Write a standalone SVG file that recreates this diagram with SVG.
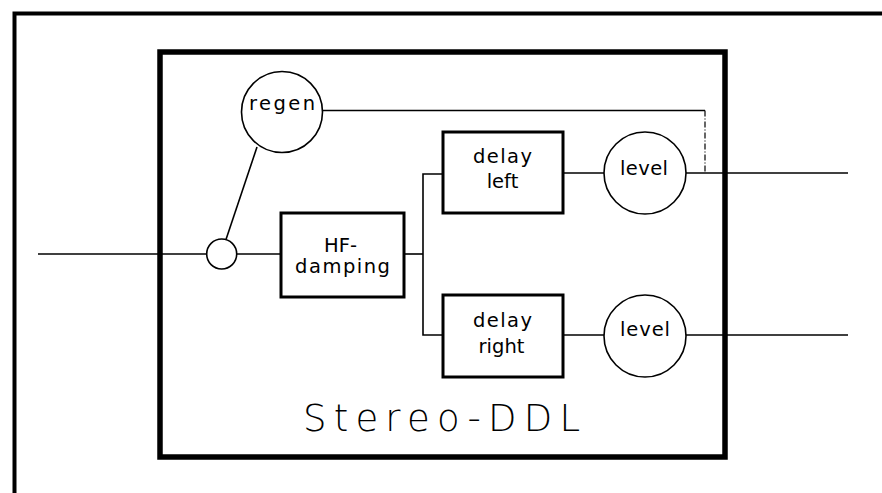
<svg xmlns="http://www.w3.org/2000/svg" width="882" height="493" viewBox="0 0 882 493">
<style>
.frame{fill:none;stroke:#000;stroke-width:4}
.box{fill:#fff;stroke:#000;stroke-width:3}
.circ{fill:#fff;stroke:#000;stroke-width:1.6}
.wire{fill:none;stroke:#000;stroke-width:1.6}
.dash{fill:none;stroke:#000;stroke-width:1.2;stroke-dasharray:6 2 1 2}
.t{font-family:"DejaVu Sans","Liberation Sans",sans-serif;font-size:19.5px;fill:#000;text-anchor:middle}
.big{font-family:"DejaVu Sans","Liberation Sans",sans-serif;font-size:37px;font-weight:200;fill:#000}
</style>
<rect width="882" height="493" fill="#fff"/>
<g id="outer-frame">
<path class="frame" d="M14.5,493 V13.5 H882"/>
</g>
<g id="stereo-ddl">
<rect x="160" y="52" width="565" height="405" fill="none" stroke="#000" stroke-width="5.5"/>
<text class="big" x="303" y="431" textLength="277" lengthAdjust="spacing">Stereo-DDL</text>
</g>
<g id="connectors">
<path class="wire" d="M38,254 H206.7"/>
<path class="wire" d="M236.7,254 H281"/>
<path class="wire" d="M404,254 H423"/>
<path class="wire" d="M443,174 H423 V335 H443"/>
<path class="wire" d="M563,173 H604"/>
<path class="wire" d="M563,335 H604"/>
<path class="wire" d="M686,173 H848"/>
<path class="wire" d="M686,335 H848"/>
<path class="wire" d="M257,147 L226,239.5"/>
<path class="wire" d="M323,110.5 H705"/>
<path class="dash" d="M705,110.5 V173"/>
</g>
<g id="summing-junction">
<circle class="circ" cx="221.7" cy="254" r="15"/>
</g>
<g id="regen">
<circle class="circ" cx="282" cy="112" r="40.5"/>
<text class="t" x="282" y="110" textLength="66" lengthAdjust="spacing">regen</text>
</g>
<g id="hf-damping">
<rect class="box" x="281" y="213" width="123" height="84"/>
<text class="t" x="340.5" y="252">HF-</text>
<text class="t" x="342.5" y="273" textLength="95" lengthAdjust="spacing">damping</text>
</g>
<g id="delay-left">
<rect class="box" x="443" y="132" width="120" height="81"/>
<text class="t" x="502.5" y="163" textLength="59" lengthAdjust="spacing">delay</text>
<text class="t" x="502.5" y="188">left</text>
</g>
<g id="delay-right">
<rect class="box" x="443" y="295" width="120" height="82"/>
<text class="t" x="502.5" y="327" textLength="59" lengthAdjust="spacing">delay</text>
<text class="t" x="501.5" y="353">right</text>
</g>
<g id="level-left">
<circle class="circ" cx="645" cy="173" r="41"/>
<text class="t" x="644" y="175" textLength="48" lengthAdjust="spacing">level</text>
</g>
<g id="level-right">
<circle class="circ" cx="645" cy="336" r="41"/>
<text class="t" x="645" y="336" textLength="50" lengthAdjust="spacing">level</text>
</g>
</svg>
